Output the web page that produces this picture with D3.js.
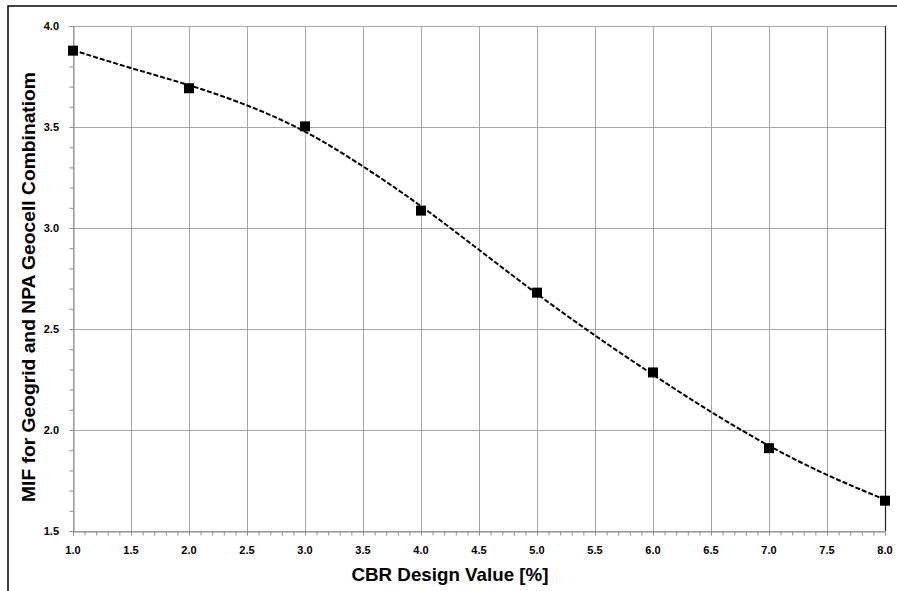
<!DOCTYPE html>
<html>
<head>
<meta charset="utf-8">
<script src="https://cdn.jsdelivr.net/npm/d3@7"></script>
<style>
  body { margin: 0; background: #fff; }
  svg { display: block; }
  text { font-family: "Liberation Sans", Arial, sans-serif; font-weight: bold; fill: #000; }
</style>
</head>
<body>
<script>
// Data
const cbrValues = [1, 2, 3, 4, 5, 6, 7, 8];
const mifValues = [3.878, 3.692, 3.503, 3.086, 2.68, 2.285, 1.91, 1.65];
// Dashed trend line as drawn in the reference, read every 0.5
const trendX = [1, 1.5, 2, 2.5, 3, 3.5, 4, 4.5, 5, 5.5, 6, 6.5, 7, 7.5, 8];
const trendY = [3.88, 3.792, 3.707, 3.607, 3.477, 3.305, 3.108, 2.892, 2.674, 2.468, 2.274, 2.09, 1.922, 1.778, 1.655];
const xTicks = [1.0, 1.5, 2.0, 2.5, 3.0, 3.5, 4.0, 4.5, 5.0, 5.5, 6.0, 6.5, 7.0, 7.5, 8.0];
const yTicks = [1.5, 2.0, 2.5, 3.0, 3.5, 4.0];
const xTitle = "CBR Design Value [%]";
const yTitle = "MIF for Geogrid and NPA Geocell Combinatiom";

const W = 897, H = 591;
const m = { left: 73, right: 897 - 885, top: 26, bottom: 591 - 531 };

const svg = d3.select("body").append("svg").attr("width", W).attr("height", H);

// outer frame (cut at right/bottom like the reference)
svg.append("path").attr("d", `M8,${H + 2}V6H${W + 2}`)
  .attr("fill", "none").attr("stroke", "#000").attr("stroke-width", 1.5);

const x = d3.scaleLinear().domain([1, 8]).range([m.left, W - m.right]);
const y = d3.scaleLinear().domain([1.5, 4.0]).range([H - m.bottom, m.top]);

const grid = svg.append("g");
grid.selectAll("line.vx").data(xTicks).join("line")
  .attr("x1", d => Math.round(x(d)) + 0.5).attr("x2", d => Math.round(x(d)) + 0.5)
  .attr("y1", y(4.0)).attr("y2", y(1.5))
  .attr("stroke", "#a6a6a6").attr("stroke-width", 1);
grid.selectAll("line.hy").data(yTicks).join("line")
  .attr("y1", d => Math.round(y(d)) + 0.5).attr("y2", d => Math.round(y(d)) + 0.5)
  .attr("x1", x(1)).attr("x2", x(8))
  .attr("stroke", "#a6a6a6").attr("stroke-width", 1);

// minor ticks
const xMinor = d3.range(10, 81).map(v => v / 10);
const yMinor = d3.range(15, 41).map(v => v / 10);
const xAxis = d3.axisBottom(x).tickValues(xMinor).tickSize(4).tickFormat("");
const yAxis = d3.axisLeft(y).tickValues(yMinor).tickSize(4).tickFormat("");
const gx = svg.append("g").attr("transform", `translate(0,${Math.round(y(1.5)) + 0.5})`).call(xAxis);
const gy = svg.append("g").attr("transform", `translate(${Math.round(x(1)) + 0.5},0)`).call(yAxis);
[gx, gy].forEach(g => {
  g.select(".domain").attr("stroke", "#8c8c8c");
  g.selectAll(".tick line").attr("stroke", "#8c8c8c");
});

// right border of plot
svg.append("line")
  .attr("x1", Math.round(x(8)) + 0.5).attr("x2", Math.round(x(8)) + 0.5)
  .attr("y1", y(4.0)).attr("y2", y(1.5))
  .attr("stroke", "#222").attr("stroke-width", 1.2);

// tick labels
svg.append("g").selectAll("text").data(xTicks).join("text")
  .attr("x", d => x(d)).attr("y", 554)
  .attr("text-anchor", "middle").attr("font-size", 11)
  .text(d => d.toFixed(1));
svg.append("g").selectAll("text").data(yTicks).join("text")
  .attr("x", 59).attr("y", d => y(d) + 4)
  .attr("text-anchor", "end").attr("font-size", 11)
  .text(d => d.toFixed(1));

// trend line
const pts = trendX.map((d, i) => [d, trendY[i]]);
svg.append("path").datum(pts)
  .attr("d", d3.line().x(d => x(d[0])).y(d => y(d[1])).curve(d3.curveNatural))
  .attr("fill", "none").attr("stroke", "#000").attr("stroke-width", 2)
  .attr("stroke-dasharray", "5,2");

// markers
const s = 10;
svg.append("g").selectAll("rect").data(cbrValues).join("rect")
  .attr("x", (d) => x(d) - s / 2).attr("y", (d, i) => y(mifValues[i]) - s / 2)
  .attr("width", s).attr("height", s).attr("fill", "#000");

// axis titles
svg.append("text").attr("x", 450).attr("y", 581)
  .attr("text-anchor", "middle").attr("font-size", 19)
  .attr("textLength", 197).attr("lengthAdjust", "spacingAndGlyphs")
  .text(xTitle);
svg.append("text").attr("transform", "translate(35,287) rotate(-90)")
  .attr("text-anchor", "middle").attr("font-size", 18)
  .attr("textLength", 430).attr("lengthAdjust", "spacingAndGlyphs")
  .text(yTitle);
</script>
</body>
</html>
